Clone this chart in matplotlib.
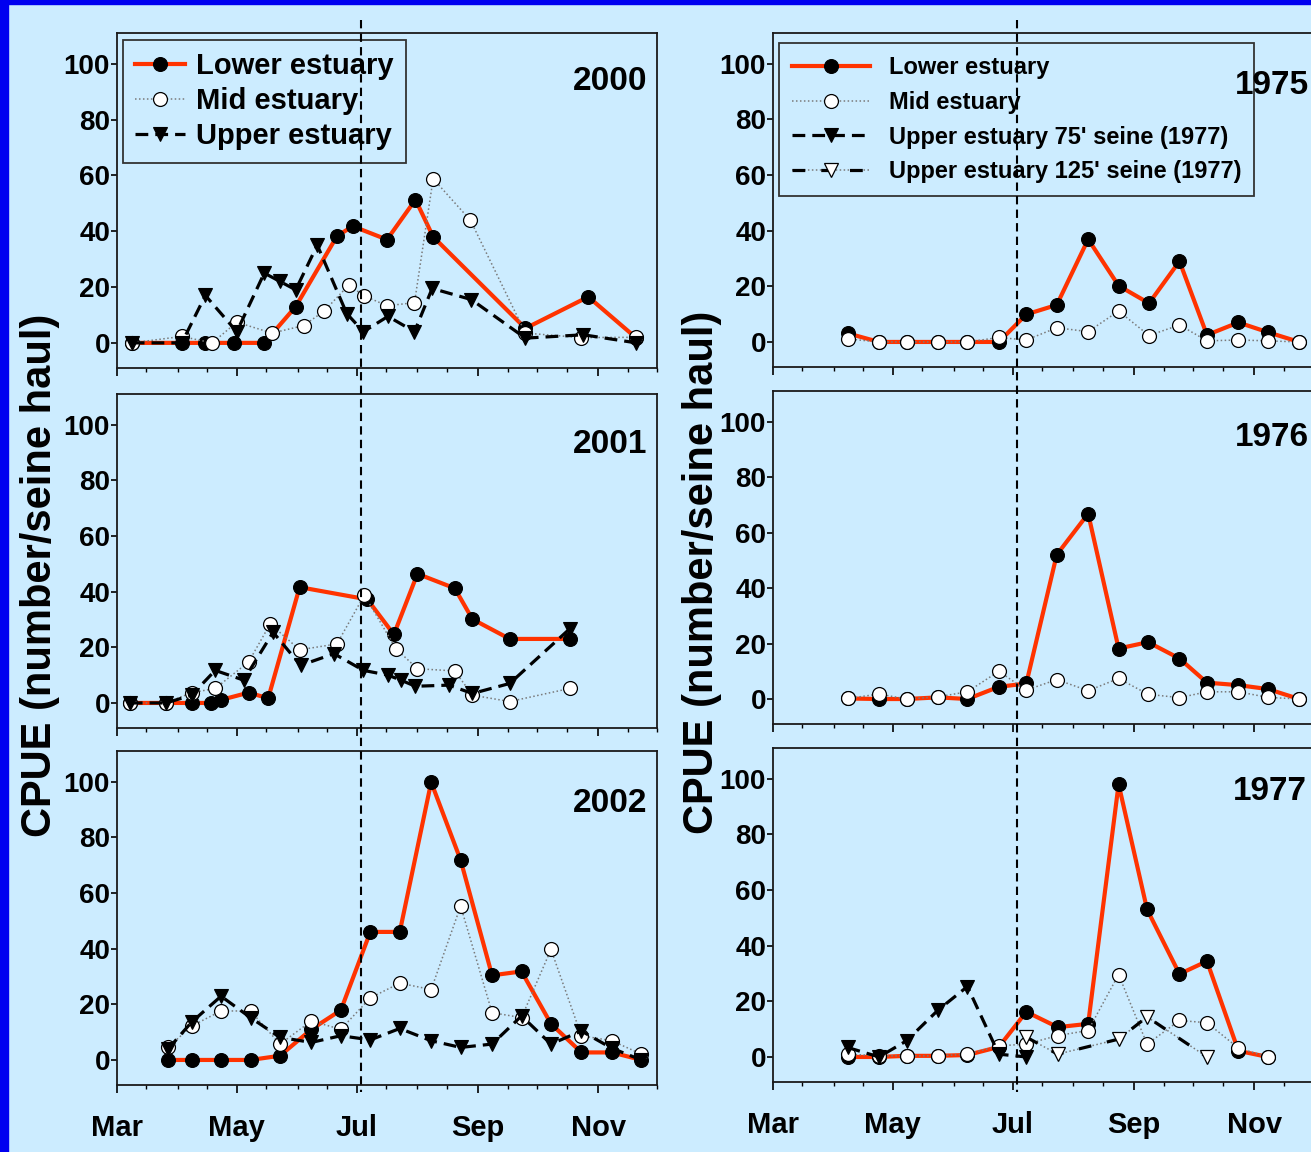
import matplotlib
matplotlib.use('Agg')
import matplotlib.pyplot as plt
from matplotlib.lines import Line2D
from matplotlib.patches import Rectangle
from matplotlib.legend_handler import HandlerTuple
import matplotlib.transforms as mtransforms

plt.rcParams['font.family'] = ['Liberation Sans', 'DejaVu Sans']
plt.rcParams['font.weight'] = 'bold'

# ---------------- data (x = days since 1 March) ----------------
month_days = [0, 61, 122, 184, 245]
month_labels = ['Mar', 'May', 'Jul', 'Sep', 'Nov']
minor_days = [15, 31, 46, 76, 92, 107, 137, 153, 168, 199, 214, 229, 260, 275]
y_ticks = [0, 20, 40, 60, 80, 100]
cutoff_day = 124.5

days_2000_lower = [7.5, 33, 45, 59.5, 75, 91, 112, 120, 137.5, 152, 161, 208, 240, 264.5]
cpue_2000_lower = [0, 0, 0, 0, 0, 13, 38.2, 41.8, 37, 51.3, 38, 5.2, 16.5, 1.7]
days_2000_mid = [7.5, 33, 48.5, 61, 79, 95, 105.5, 118, 126, 137.5, 151.5, 161, 180, 208, 236.5, 264.5]
cpue_2000_mid = [0, 2.3, 0, 7.4, 3.5, 6.2, 11.4, 20.7, 16.8, 13.3, 14.4, 58.8, 43.9, 3.5, 1.9, 2]
days_2000_upper = [7.5, 33, 45, 61, 75, 83, 91, 102, 117, 125.5, 138, 151.5, 160.5, 180.5, 208, 237.5, 264.5]
cpue_2000_upper = [0, 0, 17, 4, 25, 22, 19, 35, 10.5, 4, 9.5, 4, 19.5, 15.5, 1.7, 2.9, 0]

days_2001_lower = [6.5, 25, 38, 48, 53, 67, 77, 93, 127.5, 141, 153, 172, 181, 200, 230.5]
cpue_2001_lower = [0, 0, 0, 0, 1.1, 3.7, 1.7, 41.6, 37.2, 24.6, 46.4, 41.2, 30.1, 23, 23]
days_2001_mid = [6.5, 25, 38, 50, 67, 78, 93, 112, 126, 142, 153, 172, 181, 200, 230.5]
cpue_2001_mid = [0, 0, 3.7, 5.2, 14.7, 28.4, 19.1, 21.2, 38.8, 19.5, 12.3, 11.5, 2.8, 0.5, 5.2]
days_2001_upper = [6.5, 25, 38, 50, 64.5, 79.5, 93.5, 110.5, 125.5, 138, 144.5, 152, 169, 181, 200, 230.5]
cpue_2001_upper = [0, 0, 2.8, 11.7, 8.2, 25.4, 13.5, 17.7, 11.7, 10, 8.2, 6, 6.4, 3.4, 7, 26.6]

days_2002 = [26, 38, 53, 68, 83, 99, 114, 129, 144, 160, 175, 191, 206, 221, 236.5, 252, 267]
cpue_2002_lower = [0, 0, 0, 0, 1.5, 11, 17.9, 46, 46, 99.8, 71.8, 30.4, 31.8, 13, 2.7, 2.7, 0]
cpue_2002_mid = [4.5, 12.2, 17.6, 17.6, 5.7, 14, 11, 22.3, 27.6, 25.3, 55.3, 17, 15.2, 39.7, 8.7, 6.9, 2.1]
cpue_2002_upper = [3.9, 13.6, 22.9, 15.2, 8.1, 6.3, 8.7, 7.2, 11.3, 6.9, 4.5, 5.7, 15.8, 5.7, 10.4, 4.2, 0]

days_1975 = [38, 54, 68, 84, 99, 115, 129, 144.5, 160.5, 176, 191.5, 207, 221, 237, 252, 268]
cpue_1975_lower = [3.1, 0, 0, 0, 0, 0, 9.9, 13.3, 36.9, 20.2, 13.9, 29, 2.5, 7, 3.5, 0]
cpue_1975_mid = [1.1, 0, 0, 0, 0, 1.6, 0.7, 5.1, 3.7, 11.1, 2.3, 6.1, 0.4, 0.7, 0.4, 0]

days_1976 = [38, 54, 68, 84, 99, 115, 129, 144.5, 160.5, 176, 191, 207, 221, 237, 252, 268]
cpue_1976_lower = [0.2, 0, 0, 0.6, 0, 4.4, 5.6, 52, 66.8, 18.2, 20.5, 14.6, 5.9, 5, 3.6, 0]
cpue_1976_mid = [0.2, 1.8, 0, 0.8, 2.6, 10, 3.2, 7, 3, 7.4, 1.7, 0.5, 2.6, 2.6, 0.6, 0]

days_1977 = [38, 54, 68, 84, 99, 115, 129, 145, 160.5, 176, 190.5, 207, 221, 237, 252]
cpue_1977_lower = [0, 0, 0.4, 0.4, 0.7, 3.6, 16.2, 10.7, 11.9, 98, 53, 29.8, 34.4, 2.2, 0]
cpue_1977_mid = [1, 0.4, 0.4, 0.4, 1, 4, 4.6, 7.7, 9.5, 29.6, 4.6, 13.1, 12.3, 3.2, 0]
days_1977_upper75 = [38, 54, 68, 84, 99, 115, 129]
cpue_1977_upper75 = [3.4, 0, 5.8, 16.8, 25.3, 1, 0]
days_1977_upper125 = [129, 145, 176, 190.5, 221]
cpue_1977_upper125 = [7.1, 1, 6.4, 14.4, 0]

labels_left = ['Lower estuary', 'Mid estuary', 'Upper estuary']
labels_right = ['Lower estuary', 'Mid estuary',
                "Upper estuary 75' seine (1977)", "Upper estuary 125' seine (1977)"]

# ---------------- styling ----------------
W, H = 1311, 1152
BG = '#CCECFF'
RED = '#FF3300'
GRAY = '#7A7A7A'

STY = {
    'lower': dict(color=RED, lw=3.0, ls='-', marker='o', ms=10, mfc='black', mec='black', mew=0.8, zorder=3),
    'mid': dict(color=GRAY, lw=1.1, ls=(0, (1, 1.6)), marker='o', ms=10, mfc='white', mec='black', mew=0.9, zorder=4),
    'upper': dict(color='black', lw=2.3, ls=(0, (4, 2.2)), marker='v', ms=10.5, mfc='black', mec='black', mew=0.8, zorder=5),
}

fig = plt.figure(figsize=(W / 100, H / 100), dpi=100, facecolor=BG)

def px_axes(left, top, bottom, width=540):
    return fig.add_axes([left / W, 1 - bottom / H, width / W, (bottom - top) / H])

def style_axes(ax, show_months):
    ax.set_facecolor(BG)
    ax.set_xlim(0, 275)
    ax.set_ylim(-9, 111)
    ax.set_xticks(month_days)
    ax.set_xticks(minor_days, minor=True)
    ax.set_yticks(y_ticks)
    ax.tick_params(axis='y', labelsize=20, length=4, width=1.2, pad=1, colors='black')
    ax.tick_params(axis='x', which='major', length=6, width=1.2, labelsize=21, pad=15)
    ax.tick_params(axis='x', which='minor', length=3, width=1.0)
    if show_months:
        ax.set_xticklabels(month_labels)
    else:
        ax.tick_params(axis='x', labelbottom=False)
    for sp in ax.spines.values():
        sp.set_linewidth(1.3)
        sp.set_color('#1a1a1a')

def plot_series(ax, kind, days, vals):
    return ax.plot(days, vals, **STY[kind])[0]

def plot_upper125(ax, days, vals):
    g = ax.plot(days, vals, color=GRAY, lw=1.1, ls=(0, (1, 1.6)), zorder=5)[0]
    b = ax.plot(days, vals, color='black', lw=2.3, ls=(0, (4, 5)), marker='v', ms=10.5,
                mfc='white', mec='black', mew=0.9, zorder=5)[0]
    return (g, b)

# ---------------- axes ----------------
left_rows = [(33, 368), (394, 728), (751, 1085)]
right_rows = [(33, 367), (391, 724), (748, 1082)]

axL = [px_axes(117, t, b) for t, b in left_rows]
axR = [px_axes(773, t, b) for t, b in right_rows]
for i, ax in enumerate(axL):
    style_axes(ax, i == 2)
for i, ax in enumerate(axR):
    style_axes(ax, i == 2)

# ---------------- left column ----------------
hL = plot_series(axL[0], 'lower', days_2000_lower, cpue_2000_lower)
hM = plot_series(axL[0], 'mid', days_2000_mid, cpue_2000_mid)
hU = plot_series(axL[0], 'upper', days_2000_upper, cpue_2000_upper)

plot_series(axL[1], 'lower', days_2001_lower, cpue_2001_lower)
plot_series(axL[1], 'mid', days_2001_mid, cpue_2001_mid)
plot_series(axL[1], 'upper', days_2001_upper, cpue_2001_upper)

plot_series(axL[2], 'lower', days_2002, cpue_2002_lower)
plot_series(axL[2], 'mid', days_2002, cpue_2002_mid)
plot_series(axL[2], 'upper', days_2002, cpue_2002_upper)

# ---------------- right column ----------------
rL = plot_series(axR[0], 'lower', days_1975, cpue_1975_lower)
rM = plot_series(axR[0], 'mid', days_1975, cpue_1975_mid)

plot_series(axR[1], 'lower', days_1976, cpue_1976_lower)
plot_series(axR[1], 'mid', days_1976, cpue_1976_mid)

plot_series(axR[2], 'lower', days_1977, cpue_1977_lower)
plot_series(axR[2], 'mid', days_1977, cpue_1977_mid)
rU75 = plot_series(axR[2], 'upper', days_1977_upper75, cpue_1977_upper75)
rU125 = plot_upper125(axR[2], days_1977_upper125, cpue_1977_upper125)

# ---------------- legends ----------------
legL = axL[0].legend([hL, hM, hU], labels_left, loc='upper left',
                     bbox_to_anchor=(123 / W, 1 - 40 / H), bbox_transform=fig.transFigure,
                     borderaxespad=0, fontsize=21, handlelength=1.7, handletextpad=0.4,
                     labelspacing=0.24, borderpad=0.42, fancybox=False, framealpha=1)
legL.get_frame().set_facecolor('none')
legL.get_frame().set_edgecolor('#333333')
legL.get_frame().set_linewidth(1.3)
legR = axR[0].legend([rL, rM, rU75, rU125], labels_right, loc='upper left',
                     bbox_to_anchor=(779 / W, 1 - 43 / H), bbox_transform=fig.transFigure,
                     borderaxespad=0, fontsize=17, handlelength=3.3, handletextpad=0.8,
                     labelspacing=0.5, borderpad=0.55, fancybox=False, framealpha=1,
                     handler_map={tuple: HandlerTuple(ndivide=1)})
legR.get_frame().set_facecolor('none')
legR.get_frame().set_edgecolor('#333333')
legR.get_frame().set_linewidth(1.3)

# ---------------- year labels ----------------
for txt, x, y in [('2000', 647, 82), ('2001', 647, 444), ('2002', 647, 803)]:
    fig.text(x / W, 1 - y / H, txt, ha='right', va='center', fontsize=24, fontweight='bold')
for txt, x, y in [('1975', 1235, 85), ('1976', 1235, 437), ('1977', 1233, 791)]:
    fig.text(x / W, 1 - y / H, txt, ha='left', va='center', fontsize=24, fontweight='bold')

# ---------------- y labels ----------------
fig.text(40 / W, 1 - 575 / H, 'CPUE (number/seine haul)', rotation=90, ha='center',
         va='center', fontsize=30, fontweight='bold')
fig.text(702 / W, 1 - 572 / H, 'CPUE (number/seine haul)', rotation=90, ha='center',
         va='center', fontsize=30, fontweight='bold')

# ---------------- cutoff dashed lines spanning all panels ----------------
for ax in (axL[2], axR[2]):
    tr = mtransforms.blended_transform_factory(ax.transData, fig.transFigure)
    fig.add_artist(Line2D([cutoff_day, cutoff_day], [1 - 20 / H, 1 - 1092 / H], transform=tr,
                          color='black', lw=1.5, ls=(0, (4, 2.5)), zorder=10))

# ---------------- blue frame ----------------
fig.add_artist(Rectangle((0, 0), 8 / W, 1, transform=fig.transFigure, color='#0000F0', zorder=20))
fig.add_artist(Rectangle((0, 1 - 4 / H), 1, 4 / H, transform=fig.transFigure, color='#0000F0', zorder=20))

fig.savefig('out.png', dpi=100, facecolor=BG)
